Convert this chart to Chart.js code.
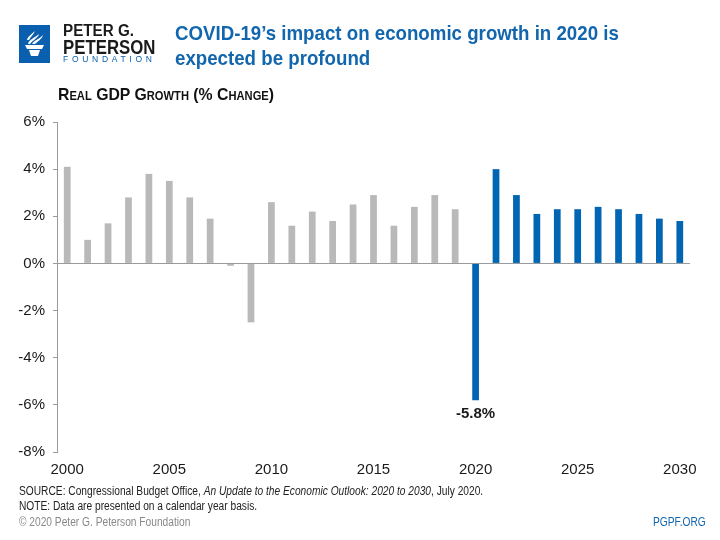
<!DOCTYPE html>
<html>
<head>
<meta charset="utf-8">
<script src="https://cdn.jsdelivr.net/npm/chart.js@4.4.0/dist/chart.umd.min.js"></script>
<style>
  body { margin: 0; background: #fff; }
  #wrap { position: relative; width: 720px; height: 540px; overflow: hidden; font-family: "Liberation Sans", Arial, sans-serif; }
  #chart { position: absolute; left: 0; top: 0; }
  .abs { position: absolute; white-space: nowrap; transform-origin: 0 0; }
  #title { left: 175px; top: 20px; color: #1266ae; font-weight: bold; font-size: 21px; line-height: 25px; transform: scaleX(0.89); }
  #subtitle { left: 58px; top: 85px; color: #111; font-weight: bold; font-size: 17px; font-variant: small-caps; transform: scaleX(0.93); }
  .foot { left: 19px; font-size: 12px; color: #222; transform: scaleX(0.85); }
</style>
</head>
<body>
<div id="wrap">
  <canvas id="chart" width="720" height="540"></canvas>

  <!-- logo -->
  <svg class="abs" style="left:19px;top:25px" width="31" height="38" viewBox="0 0 31 38">
    <rect width="31" height="38" fill="#0a5fae"/>
    <path d="M6 20 L25 20 L23 24 L8 24 Z" fill="#fff"/>
    <path d="M10 25 L21 25 L19 31 L12 31 Z" fill="#fff"/>
    <path d="M9 19 C10 14 16 13 20 9 C19 13 14 15 11 19 Z" fill="#fff"/>
    <path d="M13 19 C15 15 21 14 24 10 C23 14 19 16 16 19 Z" fill="#fff"/>
    <path d="M8 15 C9 11 13 9 16 6 C15 9 12 11 10 15 Z" fill="#fff"/>
  </svg>
  <div class="abs" style="left:63px;top:22px;font-weight:bold;font-size:16px;color:#1a1a1a;transform:scaleX(0.95)">PETER G.</div>
  <div class="abs" style="left:63px;top:35px;font-weight:bold;font-size:21px;color:#1a1a1a;transform:scaleX(0.8)">PETERSON</div>
  <div class="abs" style="left:63px;top:54px;font-size:8.5px;color:#0a5fae;letter-spacing:3.7px">FOUNDATION</div>

  <div class="abs" id="title">COVID-19’s impact on economic growth in 2020 is<br>expected be profound</div>
  <div class="abs" id="subtitle">Real GDP Growth (% Change)</div>

  <div class="abs foot" style="top:484px">SOURCE: Congressional Budget Office, <i>An Update to the Economic Outlook: 2020 to 2030</i>, July 2020.</div>
  <div class="abs foot" style="top:499px">NOTE: Data are presented on a calendar year basis.</div>
  <div class="abs foot" style="top:515px;color:#888">© 2020 Peter G. Peterson Foundation</div>
  <div class="abs foot" style="top:515px;left:653px;color:#1266ae">PGPF.ORG</div>
</div>

<script>
// years shown on the x axis
const years = [];
for (let y = 2000; y <= 2030; y++) years.push(String(y));

// real GDP growth, % change (2000-2019 actual, 2020-2030 projected)
const gdpGrowth = [4.1, 1.0, 1.7, 2.8, 3.8, 3.5, 2.8, 1.9, -0.1, -2.5,
                   2.6, 1.6, 2.2, 1.8, 2.5, 2.9, 1.6, 2.4, 2.9, 2.3,
                   -5.8, 4.0, 2.9, 2.1, 2.3, 2.3, 2.4, 2.3, 2.1, 1.9, 1.8];
const firstProjected = '2020';

const grey = '#b9b9b9';
const blue = '#0065b3';

const barColors = years.map(y => (y >= firstProjected ? blue : grey));

// label under the 2020 bar
const calloutPlugin = {
    id: 'callout',
    afterDatasetsDraw(chart) {
        const i = years.indexOf('2020');
        const bar = chart.getDatasetMeta(0).data[i];
        const c = chart.ctx;
        c.save();
        c.font = 'bold 15px "Liberation Sans", Arial, sans-serif';
        c.fillStyle = '#1a1a1a';
        c.textAlign = 'center';
        c.textBaseline = 'top';
        c.fillText(gdpGrowth[i].toFixed(1) + '%', bar.x, bar.y + 6);
        c.restore();
    }
};

new Chart(document.getElementById('chart'), {
    type: 'bar',
    data: {
        labels: years,
        datasets: [{
            data: gdpGrowth,
            backgroundColor: barColors,
            barPercentage: 0.33,
            categoryPercentage: 1.0
        }]
    },
    options: {
        responsive: false,
        animation: false,
        layout: { padding: { top: 122, right: 30, left: 0, bottom: 0 } },
        plugins: { legend: { display: false }, tooltip: { enabled: false } },
        scales: {
            x: {
                grid: { display: false },
                border: { display: false },
                afterFit: s => { s.height = 88; },
                ticks: {
                    autoSkip: false,
                    maxRotation: 0,
                    padding: 1,
                    color: '#1a1a1a',
                    font: { size: 15, family: '"Liberation Sans", Arial, sans-serif' },
                    callback: (v, i) => (Number(years[i]) % 5 === 0 ? years[i] : '')
                }
            },
            y: {
                min: -8,
                max: 6,
                afterFit: s => { s.width = 57; },
                border: { display: true, color: '#9a9a9a' },
                grid: {
                    color: c => (c.tick && c.tick.value === 0 ? '#9a9a9a' : 'rgba(0,0,0,0)'),
                    tickColor: '#9a9a9a',
                    tickLength: 4
                },
                ticks: {
                    stepSize: 2,
                    padding: 8,
                    color: '#1a1a1a',
                    font: { size: 15, family: '"Liberation Sans", Arial, sans-serif' },
                    callback: v => v + '%'
                }
            }
        }
    },
    plugins: [calloutPlugin]
});
</script>
</body>
</html>
